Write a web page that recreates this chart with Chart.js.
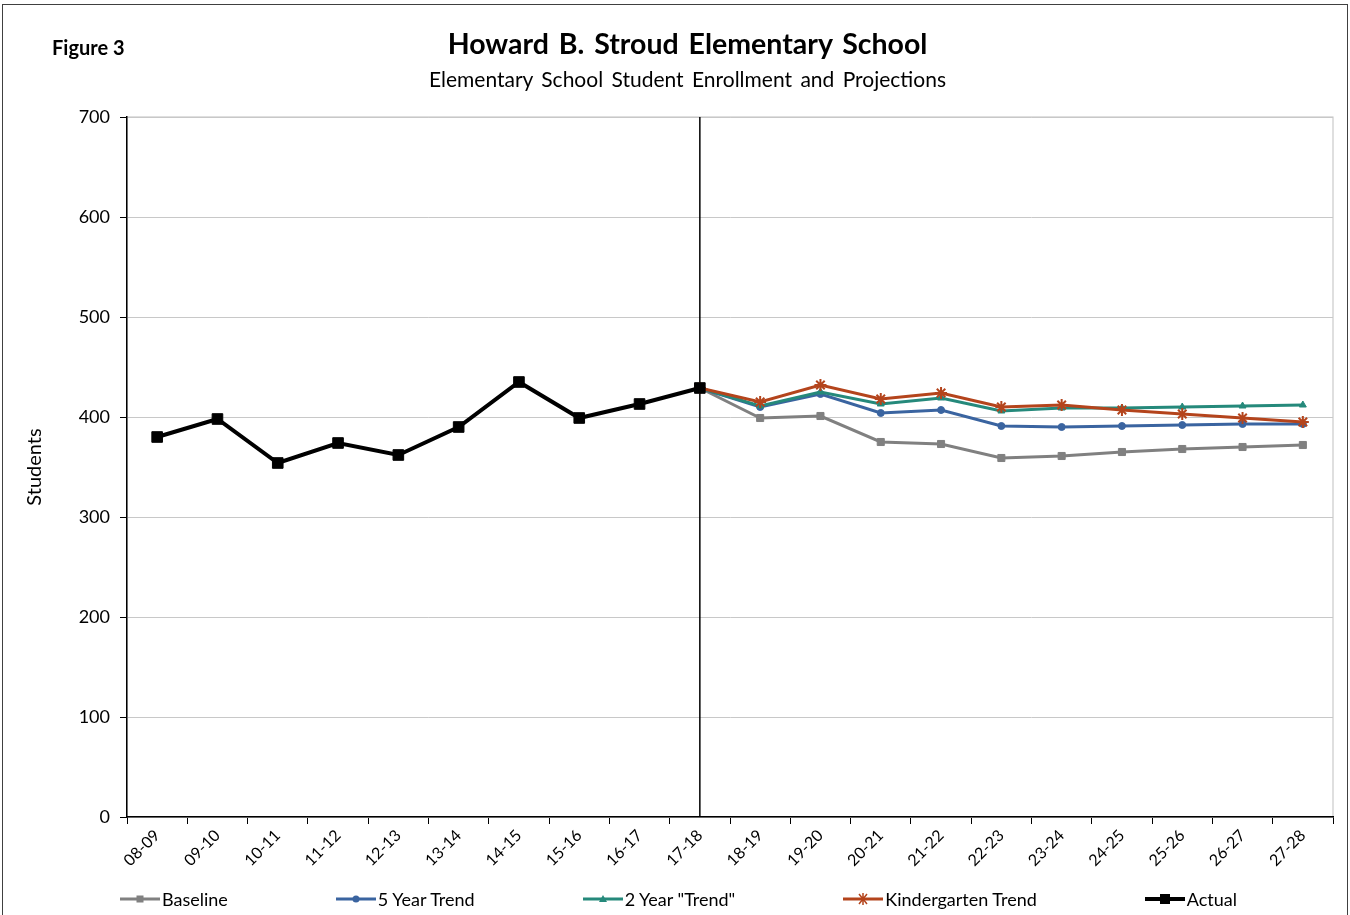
<!DOCTYPE html>
<html>
<head>
<meta charset="utf-8">
<script src="https://cdn.jsdelivr.net/npm/chart.js@4.4.1/dist/chart.umd.min.js"></script>
<style>
  body { margin: 0; background: #fff; overflow: hidden; font-family: Lato, "Open Sans", sans-serif; color: #000; }
  #wrap { position: relative; width: 1350px; height: 915px; overflow: hidden; }
  #frame { position: absolute; left: 2px; top: 4px; width: 1346px; height: 940px; border: 1.5px solid #404040; box-sizing: border-box; }
  #chart { position: absolute; left: 0; top: 0; }
  #fig { position: absolute; left: 52px; top: 35px; font-size: 20px; font-weight: bold; }
  #title { position: absolute; left: 0; width: 1375px; top: 26px; text-align: center; font-size: 28.5px; font-weight: bold; word-spacing: 3px; }
  #subtitle { position: absolute; left: 0; width: 1375px; top: 66px; text-align: center; font-size: 21px; word-spacing: 3px; }
  #legend { position: absolute; left: 120px; top: 888px; display: flex; gap: 108px; font-size: 18px; }
  .item { display: flex; align-items: center; }
  .item svg { margin-right: 2px; }
</style>
</head>
<body>
<div id="wrap">
  <div id="frame"></div>
  <canvas id="chart" width="1350" height="915"></canvas>
  <div id="fig">Figure 3</div>
  <div id="title">Howard B. Stroud Elementary School</div>
  <div id="subtitle">Elementary School Student Enrollment and Projections</div>
  <div id="legend"></div>
</div>
<script>
// Data
const years = ["08-09", "09-10", "10-11", "11-12", "12-13", "13-14", "14-15", "15-16", "16-17", "17-18",
               "18-19", "19-20", "20-21", "21-22", "22-23", "23-24", "24-25", "25-26", "26-27", "27-28"];
const actual = [380, 398, 354, 374, 362, 390, 435, 399, 413, 429,
                null, null, null, null, null, null, null, null, null, null];
const baseline = [null, null, null, null, null, null, null, null, null, 429,
                  399, 401, 375, 373, 359, 361, 365, 368, 370, 372];
const fiveYear = [null, null, null, null, null, null, null, null, null, 429,
                  410, 423, 404, 407, 391, 390, 391, 392, 393, 393];
const twoYear = [null, null, null, null, null, null, null, null, null, 429,
                 411, 425, 413, 419, 406, 409, 409, 410, 411, 412];
const kinder = [null, null, null, null, null, null, null, null, null, 429,
                415, 432, 418, 424, 410, 412, 407, 403, 399, 395];
const yTicks = [0, 100, 200, 300, 400, 500, 600, 700];
const lastActualYear = "17-18";

function series(label, data, color, style, radius, width, order) {
    return {
        label: label,
        data: data,
        borderColor: color,
        backgroundColor: color,
        borderWidth: width,
        pointStyle: style,
        pointRadius: radius,
        pointHoverRadius: radius,
        pointBorderWidth: style === "star" ? 2 : 1,
        tension: 0,
        spanGaps: false,
        order: order,
    };
}

const datasets = [
    series("Baseline", baseline, "#808080", "rect", 5, 3, 4),
    series("5 Year Trend", fiveYear, "#3a64a0", "circle", 3.5, 3, 3),
    series("2 Year \"Trend\"", twoYear, "#25897b", "triangle", 4, 3, 2),
    series("Kindergarten Trend", kinder, "#b4441c", "star", 6, 3, 1),
    series("Actual", actual, "#000000", "rect", 7.5, 4, 0),
];

// Plot frame and divider line between actual and projected years
const framePlugin = {
    id: "frame",
    beforeDraw(chart) {
        const { ctx, chartArea } = chart;
        ctx.save();
        ctx.strokeStyle = "#bfbfbf";
        ctx.lineWidth = 1;
        ctx.strokeRect(chartArea.left, chartArea.top, chartArea.right - chartArea.left, chartArea.bottom - chartArea.top);
        ctx.restore();
    },
    beforeDatasetsDraw(chart) {
        const { ctx, chartArea, scales } = chart;
        const x = scales.x.getPixelForValue(years.indexOf(lastActualYear));
        ctx.save();
        ctx.strokeStyle = "#000";
        ctx.lineWidth = 1.5;
        ctx.beginPath();
        ctx.moveTo(x, chartArea.top);
        ctx.lineTo(x, chartArea.bottom);
        ctx.stroke();
        ctx.restore();
    },
};

const fontFamily = "Lato, 'Open Sans', sans-serif";

new Chart(document.getElementById("chart"), {
    type: "line",
    data: { labels: years, datasets: datasets },
    options: {
        responsive: false,
        animation: false,
        layout: { padding: { top: 117, right: 17, bottom: 0, left: 0 } },
        plugins: {
            legend: { display: false },
            tooltip: { enabled: false },
        },
        scales: {
            x: {
                offset: true,
                grid: { display: true, offset: true, drawOnChartArea: false, drawTicks: true, tickLength: 7, tickColor: "#000" },
                border: { color: "#000", width: 1.5 },
                ticks: { minRotation: 45, maxRotation: 45, autoSkip: false, color: "#000", padding: 2,
                         font: { family: fontFamily, size: 16 } },
                afterFit(scale) { scale.height = 98; },
            },
            y: {
                min: 0,
                max: 700,
                afterBuildTicks(scale) { scale.ticks = yTicks.map((v) => ({ value: v })); },
                grid: { color: "#c8c8c8", lineWidth: 1, tickLength: 7, tickColor: "#000" },
                border: { color: "#000", width: 1.5 },
                ticks: { color: "#000", padding: 10, font: { family: fontFamily, size: 18 } },
                title: { display: true, text: "Students", color: "#000", padding: { top: 23, bottom: 0 },
                         font: { family: fontFamily, size: 20 } },
                afterFit(scale) { scale.width = 127; },
            },
        },
    },
    plugins: [framePlugin],
});

// Legend: line with marker, like the spreadsheet legend
function markerSvg(ds) {
    const c = ds.borderColor;
    let m = "";
    if (ds.pointStyle === "rect") {
        const s = ds.label === "Actual" ? 10 : 7;
        m = `<rect x="${20 - s / 2}" y="${7 - s / 2}" width="${s}" height="${s}" fill="${c}"/>`;
    } else if (ds.pointStyle === "circle") {
        m = `<circle cx="20" cy="7" r="3.5" fill="${c}"/>`;
    } else if (ds.pointStyle === "triangle") {
        m = `<polygon points="20,3 24,10 16,10" fill="${c}"/>`;
    } else {
        m = `<path d="M16,2 L24,12 M24,2 L16,12 M20,1 L20,13" stroke="${c}" stroke-width="1.5"/>`;
    }
    return `<svg width="40" height="14"><line x1="0" y1="7" x2="40" y2="7" stroke="${c}" stroke-width="${ds.borderWidth}"/>${m}</svg>`;
}

const legend = document.getElementById("legend");
datasets.forEach((ds) => {
    const item = document.createElement("div");
    item.className = "item";
    item.innerHTML = markerSvg(ds) + `<span>${ds.label}</span>`;
    legend.appendChild(item);
});
</script>
</body>
</html>
